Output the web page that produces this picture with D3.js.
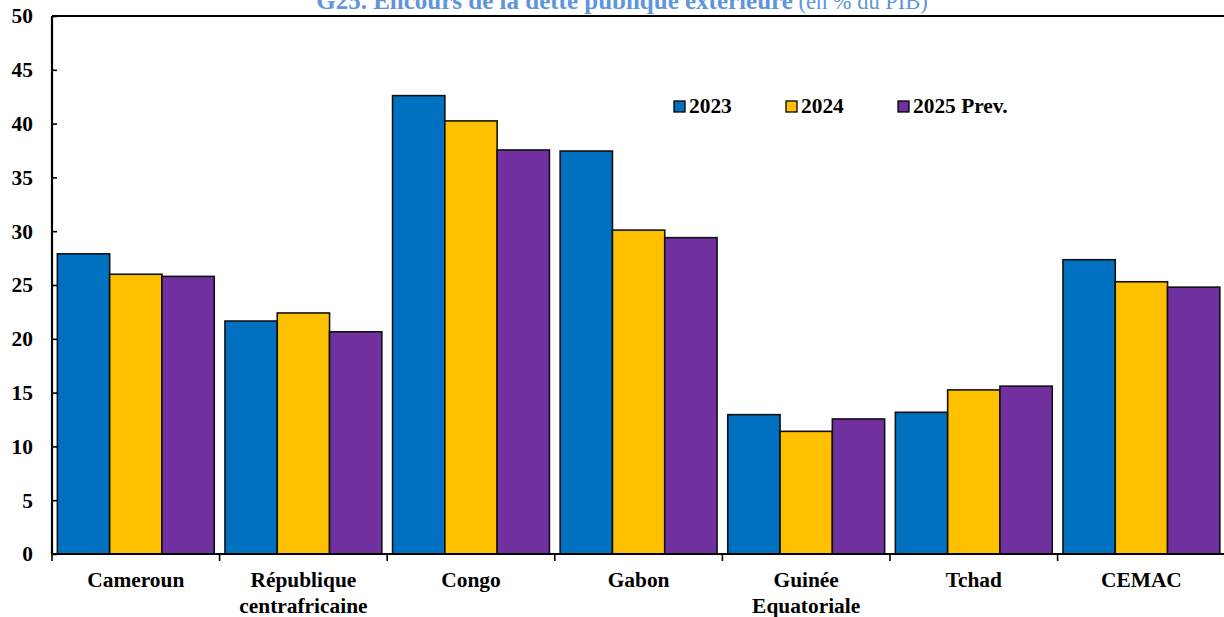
<!DOCTYPE html>
<html><head><meta charset="utf-8">
<script src="https://cdn.jsdelivr.net/npm/d3@7"></script>
<style>body{margin:0;background:#fff}svg{display:block}</style>
</head><body>
<svg id="c" width="1224" height="617"></svg>
<script>
const categories = [["Cameroun"],["République","centrafricaine"],["Congo"],["Gabon"],["Guinée","Equatoriale"],["Tchad"],["CEMAC"]];
const seriesNames = ["2023","2024","2025 Prev."];
const v2023 = [27.9, 21.65, 42.6, 37.45, 12.95, 13.17, 27.35];
const v2024 = [26.0, 22.4, 40.25, 30.1, 11.4, 15.25, 25.3];
const v2025 = [25.8, 20.65, 37.55, 29.4, 12.55, 15.6, 24.8];
const colors = ["#0070C0","#FFC000","#7030A0"];
const yTicks = [0,5,10,15,20,25,30,35,40,45,50];

const svg = d3.select("#c");
const font = "'Liberation Serif','Times New Roman',serif";
const L = 52, R = 1224, T = 16, B = 554;
const FS = 21.4;
const values = [v2023, v2024, v2025];

const x0 = d3.scaleBand().domain(d3.range(categories.length)).range([L, L + 7*167.6]).paddingInner(0.064).paddingOuter(0.032);
const x1 = d3.scaleBand().domain(d3.range(3)).range([0, x0.bandwidth()]);
const y = d3.scaleLinear().domain([0,50]).range([B, T]);

// bars
values.forEach((vals, s) => {
  svg.append("g").selectAll("rect").data(vals).join("rect")
    .attr("x", (d,i) => x0(i) + x1(s))
    .attr("y", d => y(d))
    .attr("width", x1.bandwidth())
    .attr("height", d => B - y(d))
    .attr("fill", colors[s])
    .attr("stroke", "#111").attr("stroke-width", 1.6);
});

// top border
svg.append("line").attr("x1", L).attr("x2", R).attr("y1", T).attr("y2", T).attr("stroke", "#000").attr("stroke-width", 2);

// y axis
const yAxis = d3.axisRight(y).tickValues(yTicks).tickSize(5).tickFormat("");
const gy = svg.append("g").attr("transform", `translate(${L},0)`).call(yAxis);
gy.select(".domain").attr("stroke-width", 2.2).attr("d", `M0,${T}V${B}`);
gy.selectAll(".tick line").attr("stroke-width", 1.6);
svg.append("g").selectAll("text").data(yTicks).join("text")
  .attr("x", 33).attr("y", d => y(d)).attr("dy", "0.35em")
  .attr("text-anchor", "end").attr("font-family", font).attr("font-weight", "bold")
  .attr("font-size", FS).text(d => d);

// x axis
svg.append("line").attr("x1", L).attr("x2", R).attr("y1", B).attr("y2", B).attr("stroke", "#000").attr("stroke-width", 2.2);
const step = x0.step();
svg.append("g").selectAll("line").data(d3.range(categories.length)).join("line")
  .attr("x1", i => L + i*step).attr("x2", i => L + i*step)
  .attr("y1", B).attr("y2", B + 7).attr("stroke", "#000").attr("stroke-width", 1.6);

const xl = svg.append("g");
categories.forEach((lines, i) => {
  const cx = x0(i) + x0.bandwidth()/2;
  const t = xl.append("text").attr("x", cx).attr("y", 587)
    .attr("text-anchor", "middle").attr("font-family", font).attr("font-weight", "bold").attr("font-size", FS);
  lines.forEach((ln, k) => t.append("tspan").attr("x", cx).attr("dy", k ? 25.5 : 0).text(ln));
});

// legend
const legX = [674, 786, 898];
seriesNames.forEach((n, s) => {
  svg.append("rect").attr("x", legX[s]).attr("y", 101).attr("width", 11).attr("height", 11)
    .attr("fill", colors[s]).attr("stroke", "#000").attr("stroke-width", 1.3);
  svg.append("text").attr("x", legX[s] + 15).attr("y", 112.5).attr("font-family", font)
    .attr("font-weight", "bold").attr("font-size", FS).text(n);
});

// title
const tt = svg.append("text").attr("x", 622).attr("y", 9).attr("text-anchor", "middle")
  .attr("font-family", font).attr("fill", "#5F95DA");
tt.append("tspan").attr("font-weight", "bold").attr("font-size", 25).text("G25. Encours de la dette publique extérieure");
tt.append("tspan").attr("font-size", 22.5).text(" (en % du PIB)");
</script>
</body></html>
